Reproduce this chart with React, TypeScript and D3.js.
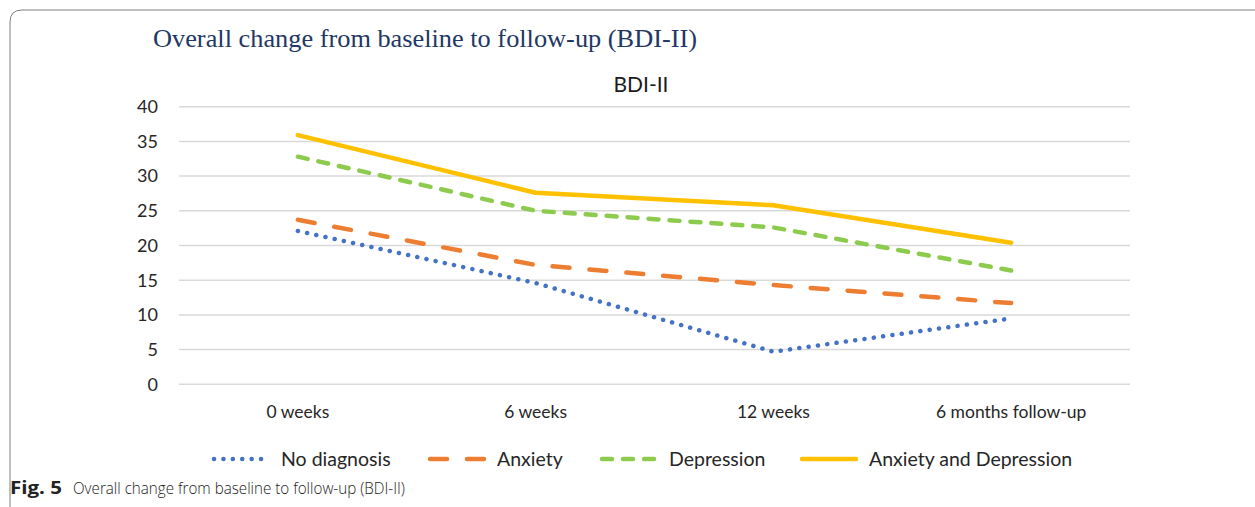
import React from "react";
import * as d3 from "d3";

const categories = ["0 weeks", "6 weeks", "12 weeks", "6 months follow-up"];
const noDiagnosis = [22.1, 14.6, 4.7, 9.5];
const anxiety = [23.7, 17.2, 14.3, 11.7];
const depression = [32.8, 25.0, 22.6, 16.4];
const anxDep = [35.9, 27.6, 25.8, 20.4];
const yTicks = [0, 5, 10, 15, 20, 25, 30, 35, 40];
const seriesNames = ["No diagnosis", "Anxiety", "Depression", "Anxiety and Depression"];

const W = 1255;
const H = 507;

export default function App() {
  const x = d3.scaleBand<string>().domain(categories).range([179, 1130]);
  const y = d3.scaleLinear().domain([0, 40]).range([384.3, 106.7]);
  const line = d3
    .line<number>()
    .x((_, i) => (x(categories[i]) as number) + x.bandwidth() / 2)
    .y((d) => y(d));

  const series = [
    { name: seriesNames[0], data: noDiagnosis, color: "#4472C4", dash: "0.1 9.3", cap: "round" },
    { name: seriesNames[1], data: anxiety, color: "#ED7D31", dash: "17 20", cap: "round" },
    { name: seriesNames[2], data: depression, color: "#8CCB4E", dash: "10 11", cap: "round" },
    { name: seriesNames[3], data: anxDep, color: "#FFC000", dash: "none", cap: "round" },
  ];

  const legendX = [212, 428, 600, 800];
  const font = "Lato, 'Open Sans', sans-serif";

  return (
    <svg
      width={W}
      height={H}
      style={{ position: "absolute", left: 0, top: 0, background: "#fff" }}
    >
      <path
        d={`M10,${H + 5} L10,22 Q10,10 22,10 L${W + 5},10`}
        fill="none"
        stroke="#7f7f7f"
        strokeWidth={1}
      />
      <text
        x={153}
        y={47}
        fontFamily="'Liberation Serif', 'Times New Roman', serif"
        fontSize={25}
        fill="#1F3864"
        textLength={544}
        lengthAdjust="spacingAndGlyphs"
      >
        Overall change from baseline to follow-up (BDI-II)
      </text>
      <text x={641} y={92} textAnchor="middle" fontFamily={font} fontSize={21} fill="#1a1a1a">
        BDI-II
      </text>
      {yTicks.map((t) => (
        <g key={t}>
          <line x1={179} x2={1130} y1={y(t)} y2={y(t)} stroke="#d9d9d9" strokeWidth={1.5} />
          <text
            x={158}
            y={y(t)}
            dy="0.35em"
            textAnchor="end"
            fontFamily={font}
            fontSize={18}
            fill="#262626"
          >
            {t}
          </text>
        </g>
      ))}
      {categories.map((c) => (
        <text
          key={c}
          x={(x(c) as number) + x.bandwidth() / 2}
          y={418}
          textAnchor="middle"
          fontFamily={font}
          fontSize={17.5}
          fill="#262626"
        >
          {c}
        </text>
      ))}
      {series.map((s) => (
        <path
          key={s.name}
          d={line(s.data) as string}
          fill="none"
          stroke={s.color}
          strokeWidth={4.5}
          strokeDasharray={s.dash}
          strokeLinecap={s.cap as any}
          strokeLinejoin="round"
        />
      ))}
      {series.map((s, i) => (
        <g key={s.name}>
          <line
            x1={legendX[i] + 2}
            x2={legendX[i] + 56}
            y1={459}
            y2={459}
            stroke={s.color}
            strokeWidth={4.5}
            strokeDasharray={s.dash}
            strokeLinecap={s.cap as any}
          />
          <text
            x={legendX[i] + 69}
            y={459}
            dy="0.35em"
            fontFamily={font}
            fontSize={19.5}
            fill="#262626"
          >
            {s.name}
          </text>
        </g>
      ))}
      <text x={10} y={494} fontFamily="'Open Sans', sans-serif" fontSize={17} fill="#222">
        <tspan fontWeight="bold" textLength={52} lengthAdjust="spacingAndGlyphs">
          Fig. 5
        </tspan>
      </text>
      <text
        x={73}
        y={494}
        fontFamily="'Open Sans', sans-serif"
        fontSize={17}
        fontWeight={300}
        fill="#222"
        textLength={332}
        lengthAdjust="spacingAndGlyphs"
      >
        Overall change from baseline to follow-up (BDI-II)
      </text>
    </svg>
  );
}
